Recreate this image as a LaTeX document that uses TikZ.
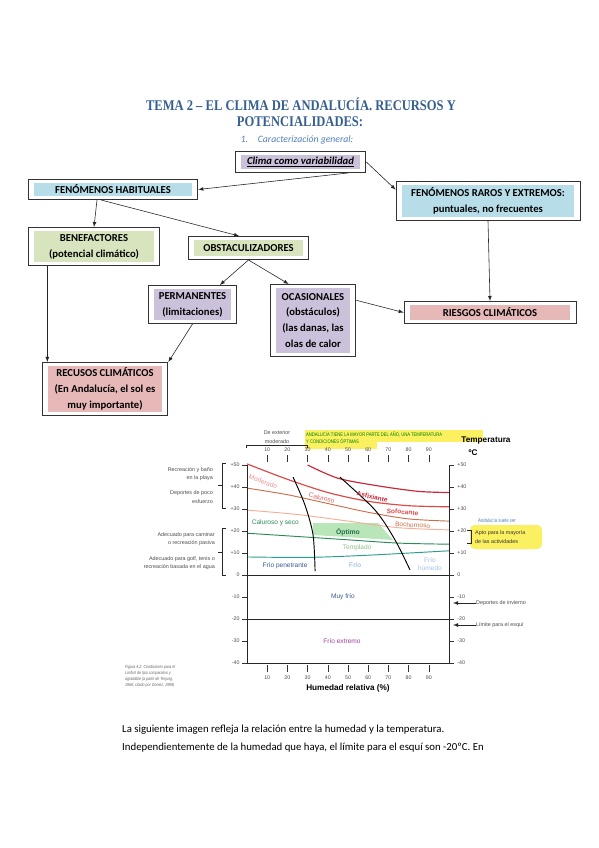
\documentclass[tikz,border=0pt]{standalone}
\usepackage{fontspec}
\setmainfont{Carlito}
\newfontfamily\titlefont[FakeStretch=0.85]{Liberation Serif}
\newfontfamily\chartfont{Liberation Sans}
\newfontfamily\notefont[FakeStretch=0.8]{Liberation Sans}
\usetikzlibrary{shapes.geometric, arrows, positioning, fit, calc}
\definecolor{titleblue}{HTML}{365F91}
\definecolor{subblue}{HTML}{4F81BD}
\definecolor{aquafill}{HTML}{B7DDE8}
\definecolor{olivefill}{HTML}{D7E4BD}
\definecolor{lilacfill}{HTML}{CCC1DA}
\definecolor{rosefill}{HTML}{E6B9B8}
\definecolor{hotred}{HTML}{C8283A}
\definecolor{warmred}{HTML}{E04848}
\definecolor{rust}{HTML}{C8704A}
\definecolor{salmon}{HTML}{F2B09A}
\definecolor{deepgreen}{HTML}{2E8B57}
\definecolor{seagreen}{HTML}{2A9D8F}
\definecolor{optgreen}{HTML}{B8E6B8}
\definecolor{coldblue}{HTML}{3A5A90}
\definecolor{paleblue}{HTML}{7FA8D8}
\definecolor{highlight}{HTML}{FAF060}
\tikzstyle{concept} = [rectangle, inner sep=0pt, text centered, align=center, font=\bfseries\fontsize{9.1}{13.6}\selectfont]
\tikzstyle{frame} = [rectangle, draw=black!80, line width=0.7pt, inner xsep=0.17cm, inner ysep=0.1cm]
\tikzstyle{arrow} = [->, >=latex, line width=0.5pt, draw=black!85]
\tikzstyle{axisnum} = [font=\chartfont\fontsize{4.5}{5}\selectfont, text=black!70, inner sep=1pt]
\tikzstyle{sidenote} = [font=\chartfont\fontsize{4.6}{7}\selectfont, text=black!70, align=right, inner sep=0pt]
\tikzstyle{zone} = [font=\chartfont\fontsize{5.6}{7}\selectfont, inner sep=0pt]

\begin{document}
\begin{tikzpicture}[x=0.03cm, y=-0.03cm]
    \useasboundingbox (0,0) rectangle (599,848);
    \fill[white] (0,0) rectangle (599,848);

    % heading
    \node (tit1) [font=\titlefont\bfseries\fontsize{12.6}{15}\selectfont, text=titleblue] at (301,104) {TEMA 2 – EL CLIMA DE ANDALUCÍA. RECURSOS Y};
    \node (tit2) [font=\titlefont\bfseries\fontsize{12.6}{15}\selectfont, text=titleblue] at (300,122) {POTENCIALIDADES:};
    \node (sub) [font=\itshape\fontsize{8.3}{10}\selectfont, text=subblue] at (297,140) {1.\quad Caracterización general:};

    % concept map
    \node (clima) [concept, fill=lilacfill, minimum width=3.57cm, minimum height=0.42cm] at (300.5,162) {\textit{\underline{Clima como variabilidad}}};
    \node (habi) [concept, fill=aquafill, minimum width=4.74cm, minimum height=0.39cm] at (113,189.5) {FENÓMENOS HABITUALES};
    \node (raros) [concept, fill=aquafill, minimum width=5.16cm, minimum height=0.96cm] at (488,201) {FENÓMENOS RAROS Y EXTREMOS:\\puntuales, no frecuentes};
    \node (bene) [concept, fill=olivefill, minimum width=3.6cm, minimum height=0.93cm] at (94,246.5) {BENEFACTORES\\(potencial climático)};
    \node (obst) [concept, fill=olivefill, minimum width=3.27cm, minimum height=0.48cm] at (248.5,248) {OBSTACULIZADORES};
    \node (perm) [concept, fill=lilacfill, minimum width=2.31cm, minimum height=0.93cm] at (192.5,304.5) {PERMANENTES\\(limitaciones)};
    \node (ocas) [concept, fill=lilacfill, minimum width=2.22cm, minimum height=1.95cm] at (313,320.5) {OCASIONALES\\(obstáculos)\\(las danas, las\\olas de calor};
    \node (ries) [concept, fill=rosefill, minimum width=4.8cm, minimum height=0.45cm] at (490,312.5) {RIESGOS CLIMÁTICOS};
    \node (recu) [concept, fill=rosefill, minimum width=3.42cm, minimum height=1.38cm] at (105,389) {RECUSOS CLIMÁTICOS\\(En Andalucía, el sol es\\muy importante)};

    \node (climaF) [frame, fit=(clima)] {};
    \node (habiF) [frame, fit=(habi)] {};
    \node (rarosF) [frame, fit=(raros)] {};
    \node (beneF) [frame, fit=(bene)] {};
    \node (obstF) [frame, fit=(obst)] {};
    \node (permF) [frame, fit=(perm)] {};
    \node (ocasF) [frame, fit=(ocas)] {};
    \node (riesF) [frame, fit=(ries)] {};
    \node (recuF) [frame, fit=(recu)] {};

    \draw [arrow] (climaF.-13) -- (habiF.east);
    \draw [arrow] (climaF.east) -- (rarosF.173);
    \draw [arrow] ([xshift=-0.48cm]habiF.south) -- (beneF.north);
    \draw [arrow] ([xshift=-0.36cm]habiF.south) -- ([xshift=-0.28cm]obstF.north);
    \draw [arrow] (rarosF.south) -- (riesF.north);
    \draw [arrow] (obstF.south) -- ([xshift=0.82cm]permF.north);
    \draw [arrow] (obstF.south) -- ([xshift=-0.73cm]ocasF.north);
    \draw [arrow] ([xshift=-1.4cm]beneF.south) -- ([xshift=-1.4cm]beneF.south |- recuF.north);
    \draw [arrow] (permF.south) -- (recuF.north east);
    \draw [arrow] (ocasF.25) -- (riesF.west);

    % highlighted notes behind the chart
    \fill[highlight] (305,430) rectangle (483,442);
    \fill[highlight] (305,442) rectangle (377,449);
    \fill[highlight, rounded corners=4pt] (470,525) rectangle (542,549);

    % chart: humidity (%) vs temperature (C)
    \begin{scope}[shift={(247,575)}, xscale=2.02, yscale=-2.2]
        \fill[optgreen] (32.7,23.6) -- (64.9,23.6) -- (72.3,15.9) -- (32.7,18.2) -- cycle;
        \draw[hotred, line width=1pt] plot[smooth] coordinates {(30,50) (45,44) (65,40.5) (85,38) (100,37.5)};
        \draw[warmred, line width=1pt] plot[smooth] coordinates {(0,50.5) (20,43.5) (40,37.5) (60,33.5) (80,31.5) (100,31)};
        \draw[rust, line width=0.8pt] plot[smooth] coordinates {(0,39.5) (20,36.5) (40,32.5) (60,28.5) (80,25.5) (100,24.5)};
        \draw[salmon, line width=0.8pt] plot[smooth] coordinates {(0,29.5) (25,27.5) (50,24.5) (75,21.5) (100,20.5)};
        \draw[deepgreen, line width=0.8pt] plot[smooth] coordinates {(0,19) (25,17.5) (50,16) (75,14.5) (100,14)};
        \draw[seagreen, line width=0.8pt] plot[smooth] coordinates {(0,8.2) (30,8) (60,9) (100,11)};
        \draw[black, line width=0.8pt] plot[smooth] coordinates {(22.8,44.5) (28.7,31.8) (32.7,18.2) (33.7,1.8)};
        \draw[black, line width=0.8pt] plot[smooth] coordinates {(46,44.5) (63.4,29.5) (73.3,15.9) (80.7,2.3)};

        \draw[black!85, line width=0.7pt] (0,50) -- (0,-40) -- (100,-40) -- (100,50);
        \draw[black!85, line width=0.6pt] (0,0) -- (100,0);
        \draw[black!85, line width=0.6pt] (0,-20) -- (100,-20);

        \foreach \t/\l in {50/+50, 40/+40, 30/+30, 20/+20, 10/+10, 0/0, -10/-10, -20/-20, -30/-30, -40/-40} {
            \draw[black!80, line width=0.5pt] (-2.5,\t) -- (0,\t);
            \draw[black!80, line width=0.5pt] (100,\t) -- (102.5,\t);
            \node (lt\t) [axisnum, anchor=east] at (-3,\t) {\l};
            \node (rt\t) [axisnum, anchor=west] at (103.5,\t) {\l};
        }
        \foreach \h in {10,20,...,90} {
            \draw[black!80, line width=0.5pt] (\h,51.5) -- (\h,54.5);
            \draw[black!80, line width=0.5pt] (\h,-41) -- (\h,-44);
            \node (th\h) [axisnum] at (\h,56.8) {\h};
            \node (bh\h) [axisnum] at (\h,-46.5) {\h};
        }

        \node (moder) [zone, text=warmred!60, rotate=-20] at (8,42.5) {Moderado};
        \node (calur) [zone, text=warmred!85, rotate=-15] at (37,35) {Caluroso};
        \node (asfix) [zone, text=hotred, font=\chartfont\bfseries\fontsize{5.6}{7}\selectfont, rotate=-12] at (62,35.5) {Asfixiante};
        \node (sofoc) [zone, text=warmred, font=\chartfont\bfseries\fontsize{5.6}{7}\selectfont, rotate=-5] at (77,28.6) {Sofocante};
        \node (bocho) [zone, text=rust, rotate=-3] at (82,22.7) {Bochornoso};
        \node (cseco) [zone, text=deepgreen] at (14,23.6) {Caluroso y seco};
        \node (optim) [zone, text=deepgreen!80!black, font=\chartfont\bfseries\fontsize{5.8}{7}\selectfont] at (50,19.5) {Óptimo};
        \node (templ) [zone, text=green!45!black!45] at (54.5,12.3) {Templado};
        \node (fpene) [zone, text=coldblue] at (18.8,4.1) {Frío penetrante};
        \node (frio) [zone, text=paleblue] at (53.5,4.5) {Frío};
        \node (fhume) [zone, text=paleblue!70, align=center] at (90.6,5) {Frío\\húmedo};
        \node (mfrio) [zone, text=coldblue] at (47.5,-10) {Muy frío};
        \node (fextr) [zone, text=violet!75] at (47,-30) {Frío extremo};
        \node (humed) [font=\chartfont\bfseries\fontsize{7}{8}\selectfont] at (50,-51.5) {Humedad relativa (\%)};
    \end{scope}

    % chart notes
    \draw[black!85, line width=0.6pt] (246,448) -- (246,445) -- (307,445) -- (307,448);
    \node (exter) [sidenote, align=center] at (277,437) {De exterior\\moderado};
    \node (anda) [font=\notefont\fontsize{4.4}{6.5}\selectfont, text=green!50!black, anchor=north west, align=left, inner sep=0pt] at (306,431.5) {ANDALUCÍA TIENE LA MAYOR PARTE DEL AÑO, UNA TEMPERATURA\\Y CONDICIONES ÓPTIMAS};
    \node (tempe) [font=\chartfont\bfseries\fontsize{7}{8}\selectfont] at (486,441) {Temperatura};
    \node (grado) [font=\chartfont\bfseries\fontsize{7}{8}\selectfont] at (473,453) {ºC};

    \draw[black!85, line width=0.6pt] (226,463) -- (222,463) -- (222,508) -- (226,508);
    \draw[black!85, line width=0.6pt] (222,485) -- (218,485);
    \draw[black!85, line width=0.6pt] (226,528) -- (222,528) -- (222,575) -- (226,575);
    \draw[black!85, line width=0.6pt] (222,552) -- (218,552);
    \node (recr) [sidenote, anchor=east] at (213,474) {Recreación y baño\\en la playa};
    \node (depo) [sidenote, anchor=east] at (213,497) {Deportes de poco\\esfuerzo};
    \node (cami) [sidenote, anchor=east] at (215,539) {Adecuado para caminar\\o recreación pasiva};
    \node (golf) [sidenote, anchor=east] at (215,563) {Adecuado para golf, tenis o\\recreación basada en el agua};

    \node (suele) [font=\notefont\fontsize{4.6}{6}\selectfont, text=subblue] at (497,521) {Andalucía suele ser};
    \draw[black!85, line width=0.6pt] (467,530) -- (471,530) -- (471,543) -- (467,543);
    \node (apto) [sidenote, align=left, anchor=west, text=black!80] at (475,537) {Apto para la mayoría\\de las actividades};

    \node (invi) [sidenote, anchor=west] at (476,603) {Deportes de invierno};
    \node (esqui) [sidenote, anchor=west] at (476,625) {Límite para el esquí};
    \coordinate (inviT) at (453,603);
    \coordinate (esquiT) at (453,625);
    \draw[arrow] (invi.west) -- (inviT);
    \draw[arrow] (esqui.west) -- (esquiT);

    \node (capt) [font=\notefont\itshape\fontsize{3.8}{5}\selectfont, text=black!60, align=left, anchor=north west, inner sep=0pt] at (125,665) {Figura 4.2: Condiciones para el\\confort de tipo comparativo y\\agradable (a partir de Terjung,\\1966; citado por Gómez, 1999)};

    % text under the chart
    \node (par1) [anchor=west, font=\fontsize{9.2}{12}\selectfont, inner sep=0pt] at (122,730) {La siguiente imagen refleja la relación entre la humedad y la temperatura.};
    \node (par2) [anchor=west, font=\fontsize{9.2}{12}\selectfont, inner sep=0pt] at (122,748) {Independientemente de la humedad que haya, el límite para el esquí son -20ºC. En};
\end{tikzpicture}
\end{document}
